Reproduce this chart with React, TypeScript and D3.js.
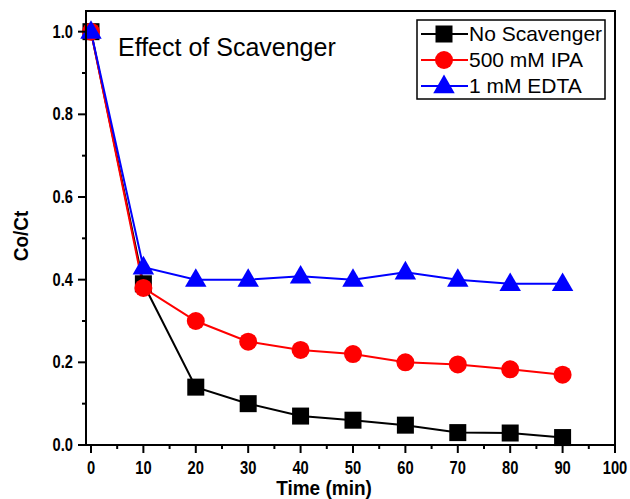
import React from "react";
import * as d3 from "d3";

const times = [0, 10, 20, 30, 40, 50, 60, 70, 80, 90];
const noScavenger = [1.0, 0.39, 0.14, 0.1, 0.07, 0.06, 0.048, 0.03, 0.029, 0.018];
const ipa500 = [1.0, 0.38, 0.3, 0.25, 0.23, 0.22, 0.2, 0.195, 0.183, 0.17];
const edta1 = [1.0, 0.43, 0.4, 0.4, 0.408, 0.4, 0.418, 0.4, 0.39, 0.39];
const seriesNames = ["No Scavenger", "500 mM IPA", "1 mM EDTA"];
const xTicks = [0, 10, 20, 30, 40, 50, 60, 70, 80, 90, 100];
const yTicks = [0.0, 0.2, 0.4, 0.6, 0.8, 1.0];

const W = 630;
const H = 499;
const left = 86;
const right = 615;
const top = 11;
const bottom = 445;

const x = d3.scaleLinear().domain([-0.95, 100]).range([left, right]);
const y = d3.scaleLinear().domain([0, 1.05]).range([bottom, top]);

const font = "'Liberation Sans', Arial, sans-serif";

type Shape = "square" | "circle" | "triangle";

function Marker({ cx, cy, shape, color }: { cx: number; cy: number; shape: Shape; color: string }) {
  if (shape === "square") {
    const s = 17;
    return <rect x={cx - s / 2} y={cy - s / 2} width={s} height={s} fill={color} />;
  }
  if (shape === "circle") {
    return <circle cx={cx} cy={cy} r={9} fill={color} />;
  }
  const sym = d3.symbol().type(d3.symbolTriangle).size(200)();
  return <path d={sym || ""} transform={`translate(${cx},${cy + 1})`} fill={color} />;
}

// Bold, slightly condensed tick label
function TickLabel({ tx, ty, anchor, children }: { tx: number; ty: number; anchor: string; children: React.ReactNode }) {
  return (
    <text
      transform={`translate(${tx},${ty}) scale(0.92,1.1)`}
      textAnchor={anchor}
      fontFamily={font}
      fontWeight="bold"
      fontSize={16}
    >
      {children}
    </text>
  );
}

export default function App() {
  const series = [
    { name: seriesNames[0], values: noScavenger, color: "#000000", shape: "square" as Shape },
    { name: seriesNames[1], values: ipa500, color: "#ff0000", shape: "circle" as Shape },
    { name: seriesNames[2], values: edta1, color: "#0000ff", shape: "triangle" as Shape },
  ];
  const line = d3
    .line<number>()
    .x((_, i) => x(times[i]))
    .y((v) => y(v));

  const xMinor = d3.range(5, 100, 10);
  const yMinor = [0.1, 0.3, 0.5, 0.7, 0.9];

  const legX = 417;
  const legY = 20;
  const legRows = [34, 60, 86];

  return (
    <svg width={W} height={H} style={{ position: "absolute", left: 0, top: 0, background: "#fff" }}>
      {/* series lines */}
      {series.map((s) => (
        <path key={s.name + "-line"} d={line(s.values) || ""} fill="none" stroke={s.color} strokeWidth={2} />
      ))}
      {/* series markers */}
      {series.map((s) =>
        s.values.map((v, i) => (
          <Marker key={s.name + i} cx={x(times[i])} cy={y(v)} shape={s.shape} color={s.color} />
        ))
      )}

      {/* frame */}
      <rect x={left} y={top} width={right - left} height={bottom - top} fill="none" stroke="#000" strokeWidth={2} />

      {/* x axis ticks */}
      {xTicks.map((t) => (
        <g key={"xt" + t}>
          <line x1={x(t)} x2={x(t)} y1={bottom} y2={bottom + 8} stroke="#000" strokeWidth={2} />
          <TickLabel tx={x(t)} ty={bottom + 29} anchor="middle">
            {t}
          </TickLabel>
        </g>
      ))}
      {xMinor.map((t) => (
        <line key={"xm" + t} x1={x(t)} x2={x(t)} y1={bottom} y2={bottom + 4} stroke="#000" strokeWidth={2} />
      ))}

      {/* y axis ticks */}
      {yTicks.map((t) => (
        <g key={"yt" + t}>
          <line x1={left - 8} x2={left} y1={y(t)} y2={y(t)} stroke="#000" strokeWidth={2} />
          <TickLabel tx={73} ty={y(t) + 6} anchor="end">
            {t.toFixed(1)}
          </TickLabel>
        </g>
      ))}
      {yMinor.map((t) => (
        <line key={"ym" + t} x1={left - 4} x2={left} y1={y(t)} y2={y(t)} stroke="#000" strokeWidth={2} />
      ))}

      {/* axis titles */}
      <text
        transform={`translate(324,495) scale(0.95,1.05)`}
        textAnchor="middle"
        fontFamily={font}
        fontWeight="bold"
        fontSize={20}
      >
        Time (min)
      </text>
      <text
        transform={`translate(28,236) rotate(-90) scale(0.95,1.05)`}
        textAnchor="middle"
        fontFamily={font}
        fontWeight="bold"
        fontSize={20}
      >
        Co/Ct
      </text>

      {/* chart title */}
      <text x={118} y={56} fontFamily={font} fontSize={25}>
        Effect of Scavenger
      </text>

      {/* legend */}
      <rect x={legX} y={legY} width={188} height={79} fill="#fff" stroke="#000" strokeWidth={1.5} />
      {series.map((s, i) => (
        <g key={"leg" + s.name}>
          <line x1={legX + 4} x2={legX + 51} y1={legRows[i]} y2={legRows[i]} stroke={s.color} strokeWidth={2} />
          <Marker cx={legX + 27} cy={legRows[i]} shape={s.shape} color={s.color} />
          <text x={legX + 52} y={legRows[i] + 7} fontFamily={font} fontSize={21}>
            {s.name}
          </text>
        </g>
      ))}
    </svg>
  );
}
